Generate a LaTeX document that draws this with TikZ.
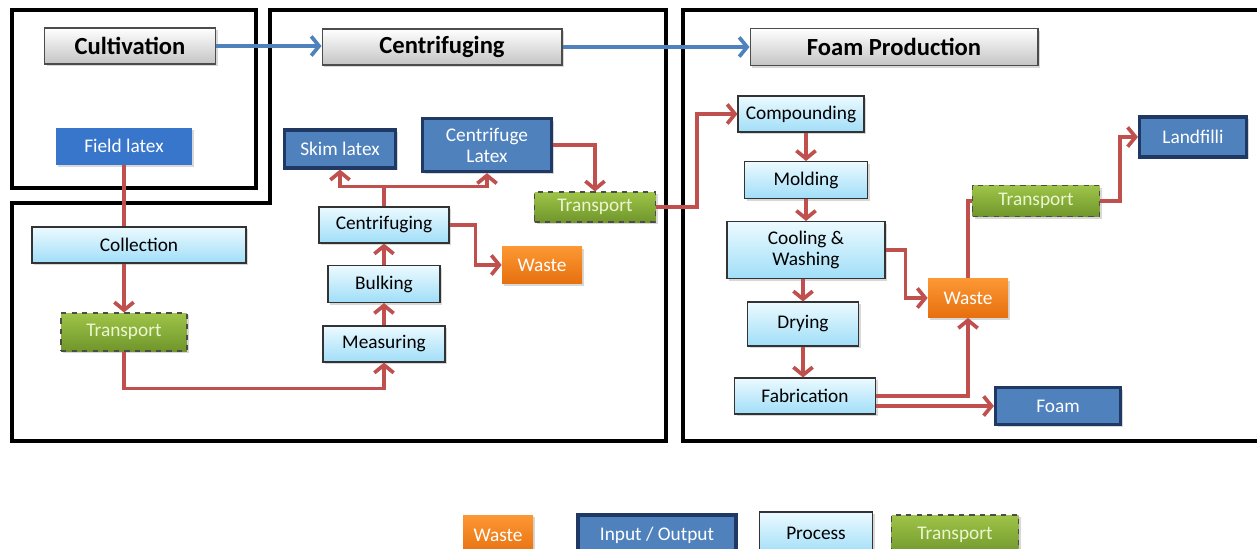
\documentclass[tikz,border=0pt]{standalone}
\usepackage{fontspec}
\setmainfont{Carlito}
\usetikzlibrary{positioning,arrows.meta,calc,shadows}
\definecolor{lcaflow}{RGB}{192,80,77}
\definecolor{lcablue}{RGB}{79,129,189}
\definecolor{lcanavy}{RGB}{31,56,100}
\definecolor{lcafield}{RGB}{56,118,204}
\definecolor{lcaproctop}{RGB}{236,250,255}
\definecolor{lcaprocbot}{RGB}{160,222,248}
\definecolor{lcawastetop}{RGB}{252,152,52}
\definecolor{lcawastebot}{RGB}{230,112,14}
\definecolor{lcatranstop}{RGB}{158,196,72}
\definecolor{lcatransbot}{RGB}{112,150,44}
\definecolor{lcatranstext}{RGB}{236,246,206}
\definecolor{lcaheadbot}{RGB}{196,196,196}
\tikzset{
    lca box/.style={
        rectangle,
        inner sep=0pt,
        align=center,
        font=\fontsize{11}{12}\selectfont,
        drop shadow={shadow xshift=1.2pt, shadow yshift=-1.2pt, fill=black!30},
    },
    lca process/.style={lca box, top color=lcaproctop, bottom color=lcaprocbot, draw=black!80, line width=0.6pt},
    lca io/.style={lca box, fill=lcablue, draw=lcanavy, line width=1.8pt, text=white},
    lca waste/.style={lca box, top color=lcawastetop, bottom color=lcawastebot, text=white},
    lca transport/.style={lca box, top color=lcatranstop, bottom color=lcatransbot, draw=black!70, dashed, line width=0.6pt, text=lcatranstext},
    lca stage/.style={lca box, top color=white, bottom color=lcaheadbot, draw=black!70, line width=0.6pt, font=\fontsize{14}{16}\selectfont\bfseries},
    lca frame/.style={line width=2.8pt},
    flow line/.style={draw=lcaflow, line width=2.1pt},
    flow/.style={flow line, -{Straight Barb[length=4.5pt,width=11pt]}},
    stage flow/.style={draw=lcablue, line width=2.1pt, -{Straight Barb[length=4.5pt,width=11pt]}}
}

\begin{document}
\begin{tikzpicture}[x=0.02cm,y=-0.02cm]
\useasboundingbox (0,0) rectangle (1257,548);

%Frames of the three stages
\draw[lca frame] (12,10) rectangle (256,188);
\draw[lca frame] (270,10) -- (666,10) -- (666,441) -- (12,441) -- (12,203) -- (270,203) -- cycle;
\draw[lca frame] (683,10) rectangle (1266,441);

%Stage headers
\node[lca stage, minimum width=3.42cm, minimum height=0.72cm] (cultivation) at (130,46) {Cultivation};
\node[lca stage, minimum width=4.8cm, minimum height=0.72cm] (centrifuging) at (442,47) {Centrifuging};
\node[lca stage, minimum width=5.76cm, minimum height=0.74cm] (foamprod) at (894,47) {Foam Production};

%Cultivation and centrifuging
\node[lca box, fill=lcafield, text=white, minimum width=2.72cm, minimum height=0.74cm] (fieldlatex) at (124,146) {Field latex};
\node[lca process, minimum width=4.28cm, minimum height=0.72cm] (collection) at (139,245) {Collection};
\node[lca transport, minimum width=2.52cm, minimum height=0.76cm] (transportA) at (124,332) {Transport};
\node[lca process, minimum width=2.44cm, minimum height=0.72cm] (measuring) at (384,344) {Measuring};
\node[lca process, minimum width=2.24cm, minimum height=0.74cm] (bulking) at (384,284) {Bulking};
\node[lca process, minimum width=2.6cm, minimum height=0.72cm] (centrifuge) at (384,225) {Centrifuging};
\node[lca io, minimum width=2.22cm, minimum height=0.76cm] (skimlatex) at (340,149) {Skim latex};
\node[lca io, minimum width=2.58cm, minimum height=1.06cm] (centrilatex) at (487,145) {Centrifuge\\Latex};
\node[lca waste, minimum width=1.6cm, minimum height=0.74cm] (wasteA) at (542,265) {Waste};
\node[lca transport, minimum width=2.42cm, minimum height=0.6cm] (transportB) at (595,207) {Transport};

%Foam production
\node[lca process, minimum width=2.52cm, minimum height=0.72cm] (compounding) at (801,114) {Compounding};
\node[lca process, minimum width=2.46cm, minimum height=0.74cm] (molding) at (806,180) {Molding};
\node[lca process, minimum width=3.16cm, minimum height=1.14cm] (cooling) at (806,250) {Cooling \&\\Washing};
\node[lca process, minimum width=2.22cm, minimum height=0.88cm] (drying) at (803,324) {Drying};
\node[lca process, minimum width=2.82cm, minimum height=0.72cm] (fabrication) at (805,396) {Fabrication};
\node[lca waste, minimum width=1.6cm, minimum height=0.78cm] (wasteB) at (968,298) {Waste};
\node[lca transport, minimum width=2.54cm, minimum height=0.62cm] (transportC) at (1036,201) {Transport};
\node[lca io, minimum width=2.14cm, minimum height=0.8cm] (landfill) at (1193,137) {Landfilli};
\node[lca io, minimum width=2.5cm, minimum height=0.74cm] (foam) at (1058,406) {Foam};

%Legend
\node[lca waste, minimum width=1.4cm, minimum height=0.8cm] (wasteL) at (498,535) {Waste};
\node[lca io, minimum width=3.16cm, minimum height=0.8cm] (ioL) at (657,535) {Input / Output};
\node[lca process, minimum width=2.26cm, minimum height=0.84cm] (processL) at (816,533) {Process};
\node[lca transport, minimum width=2.54cm, minimum height=0.8cm] (transportL) at (955,535) {Transport};

%Stage arrows
\draw[stage flow] (cultivation.east) -- (cultivation.east -| centrifuging.west);
\draw[stage flow] (centrifuging.east) -- (centrifuging.east -| foamprod.west);

%Flows
\draw[flow line] (fieldlatex.south) -- (fieldlatex.south |- collection.north);
\draw[flow] (collection.south -| transportA) -- (transportA.north);
\draw[flow] (transportA.south) -- ++(0,37) -| (measuring.south);
\draw[flow] (measuring.north) -- (bulking.south);
\draw[flow] (bulking.north) -- (centrifuge.south);
\draw[flow] (centrifuge.north) -- ++(0,-20) -| (skimlatex.south);
\draw[flow] (centrifuge.north) -- ++(0,-20) -| (centrilatex.south);
\draw[flow] (centrifuge.east) -- ++(26,0) |- (wasteA.west);
\draw[flow] (centrilatex.east) -| (transportB.north);
\draw[flow] (transportB.east) -- ++(41,0) |- (compounding.west);

\draw[flow] (molding.north |- compounding.south) -- (molding.north);
\draw[flow] (molding.south) -- (molding.south |- cooling.north);
\draw[flow] (cooling.east) -- ++(20,0) |- (wasteB.west);
\draw[flow] (cooling.south -| drying) -- (drying.north);
\draw[flow] (drying.south) -- (drying.south |- fabrication.north);
\draw[flow] (fabrication.east) -| (wasteB.south);
\draw[flow] (fabrication.east |- foam.west) -- (foam.west);
\draw[flow line] (wasteB.north) |- (transportC.west);
\draw[flow] (transportC.east) -- ++(20,0) |- (landfill.west);

\end{tikzpicture}
\end{document}
